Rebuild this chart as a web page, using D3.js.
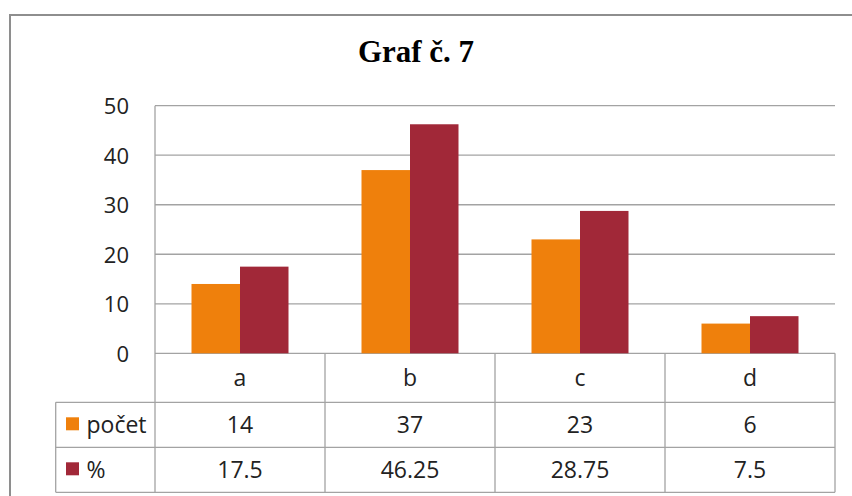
<!DOCTYPE html>
<html>
<head>
<meta charset="utf-8">
<script src="https://cdn.jsdelivr.net/npm/d3@7"></script>
<style>
  html, body { margin: 0; padding: 0; background: #fff; }
  svg { display: block; }
</style>
</head>
<body>
<svg id="chart" width="852" height="496"></svg>
<script>
const title = "Graf č. 7";
const categories = ["a", "b", "c", "d"];
const seriesNames = ["počet", "%"];
const pocet = [14, 37, 23, 6];
const percent = [17.5, 46.25, 28.75, 7.5];
const yTicks = [0, 10, 20, 30, 40, 50];
const seriesColors = ["#EF800C", "#A12838"];

const seriesValues = [pocet, percent];
const W = 852, H = 496;
const plotL = 155, plotR = 835, plotTop = 105.7, plotBottom = 353.3;
const tableL = 55.7;
const rowH = [49, 45, 45];
const lineColor = "#a3a3a3";
const font = "'Open Sans', 'DejaVu Sans', sans-serif";

const svg = d3.select("#chart");

// outer frame
svg.append("rect")
  .attr("x", 10).attr("y", 15)
  .attr("width", W + 20).attr("height", H + 20)
  .attr("fill", "#fff")
  .attr("stroke", "#8e8e8e").attr("stroke-width", 2);

// title
svg.append("text")
  .attr("x", 416).attr("y", 62)
  .attr("text-anchor", "middle")
  .attr("font-family", "'Liberation Serif', 'Times New Roman', serif")
  .attr("font-weight", "bold")
  .attr("font-size", 31)
  .attr("fill", "#000")
  .text(title);

const y = d3.scaleLinear().domain([0, 50]).range([plotBottom, plotTop]);
const x0 = d3.scaleBand().domain(categories).range([plotL, plotR]).paddingInner(0).paddingOuter(0);
const x1 = d3.scaleBand().domain(seriesNames).range([0, x0.bandwidth()]).paddingInner(0).paddingOuter(0.7526);

// gridlines
svg.append("g").selectAll("line").data(yTicks).join("line")
  .attr("x1", plotL).attr("x2", plotR)
  .attr("y1", d => y(d)).attr("y2", d => y(d))
  .attr("stroke", lineColor).attr("stroke-width", 1.3);

// y axis labels
svg.append("g").selectAll("text").data(yTicks).join("text")
  .attr("x", 129).attr("y", d => y(d) + 8.3)
  .attr("text-anchor", "end")
  .attr("font-family", font).attr("font-size", 22)
  .attr("fill", "#222")
  .text(d => d);

// bars
const groups = svg.append("g").selectAll("g").data(categories).join("g")
  .attr("transform", c => `translate(${x0(c)},0)`);
groups.selectAll("rect")
  .data((c, i) => seriesNames.map((s, k) => ({ s, k, v: seriesValues[k][i] })))
  .join("rect")
  .attr("x", d => x1(d.s))
  .attr("width", x1.bandwidth())
  .attr("y", d => y(d.v))
  .attr("height", d => y(0) - y(d.v))
  .attr("fill", d => seriesColors[d.k]);

// table
const rowTops = [plotBottom, plotBottom + rowH[0], plotBottom + rowH[0] + rowH[1]];
const tableBottom = plotBottom + rowH[0] + rowH[1] + rowH[2];
const tg = svg.append("g");

// y axis line (extends through table)
tg.append("line").attr("x1", plotL).attr("x2", plotL)
  .attr("y1", plotTop).attr("y2", tableBottom)
  .attr("stroke", lineColor).attr("stroke-width", 1.3);
// category boundaries
const bounds = categories.slice(1).map(c => x0(c)).concat([plotR]);
tg.selectAll("line.vb").data(bounds).join("line").attr("class", "vb")
  .attr("x1", d => d).attr("x2", d => d)
  .attr("y1", plotBottom).attr("y2", tableBottom)
  .attr("stroke", lineColor).attr("stroke-width", 1.3);
// left table border
tg.append("line").attr("x1", tableL).attr("x2", tableL)
  .attr("y1", rowTops[1]).attr("y2", tableBottom)
  .attr("stroke", lineColor).attr("stroke-width", 1.3);
// horizontal rows
tg.selectAll("line.hr").data([rowTops[1], rowTops[2], tableBottom]).join("line").attr("class", "hr")
  .attr("x1", tableL).attr("x2", plotR)
  .attr("y1", d => d).attr("y2", d => d)
  .attr("stroke", lineColor).attr("stroke-width", 1.3);

// category header
tg.selectAll("text.cat").data(categories).join("text").attr("class", "cat")
  .attr("x", c => x0(c) + x0.bandwidth() / 2)
  .attr("y", rowTops[0] + rowH[0] / 2 + 8.5)
  .attr("text-anchor", "middle")
  .attr("font-family", font).attr("font-size", 23).attr("fill", "#222")
  .text(c => c);

// series rows
seriesNames.forEach((s, k) => {
  const top = rowTops[k + 1];
  const cy = top + rowH[k + 1] / 2;
  tg.append("rect")
    .attr("x", 66).attr("y", cy - 7.5).attr("width", 13).attr("height", 13)
    .attr("fill", seriesColors[k]);
  tg.append("text")
    .attr("x", 86.5).attr("y", cy + 8)
    .attr("font-family", font).attr("font-size", 23).attr("fill", "#222")
    .text(s);
  tg.selectAll(`text.v${k}`).data(seriesValues[k]).join("text").attr("class", `v${k}`)
    .attr("x", (v, i) => x0(categories[i]) + x0.bandwidth() / 2)
    .attr("y", cy + 8)
    .attr("text-anchor", "middle")
    .attr("font-family", font).attr("font-size", 23).attr("fill", "#222")
    .text(v => v);
});
</script>
</body>
</html>
